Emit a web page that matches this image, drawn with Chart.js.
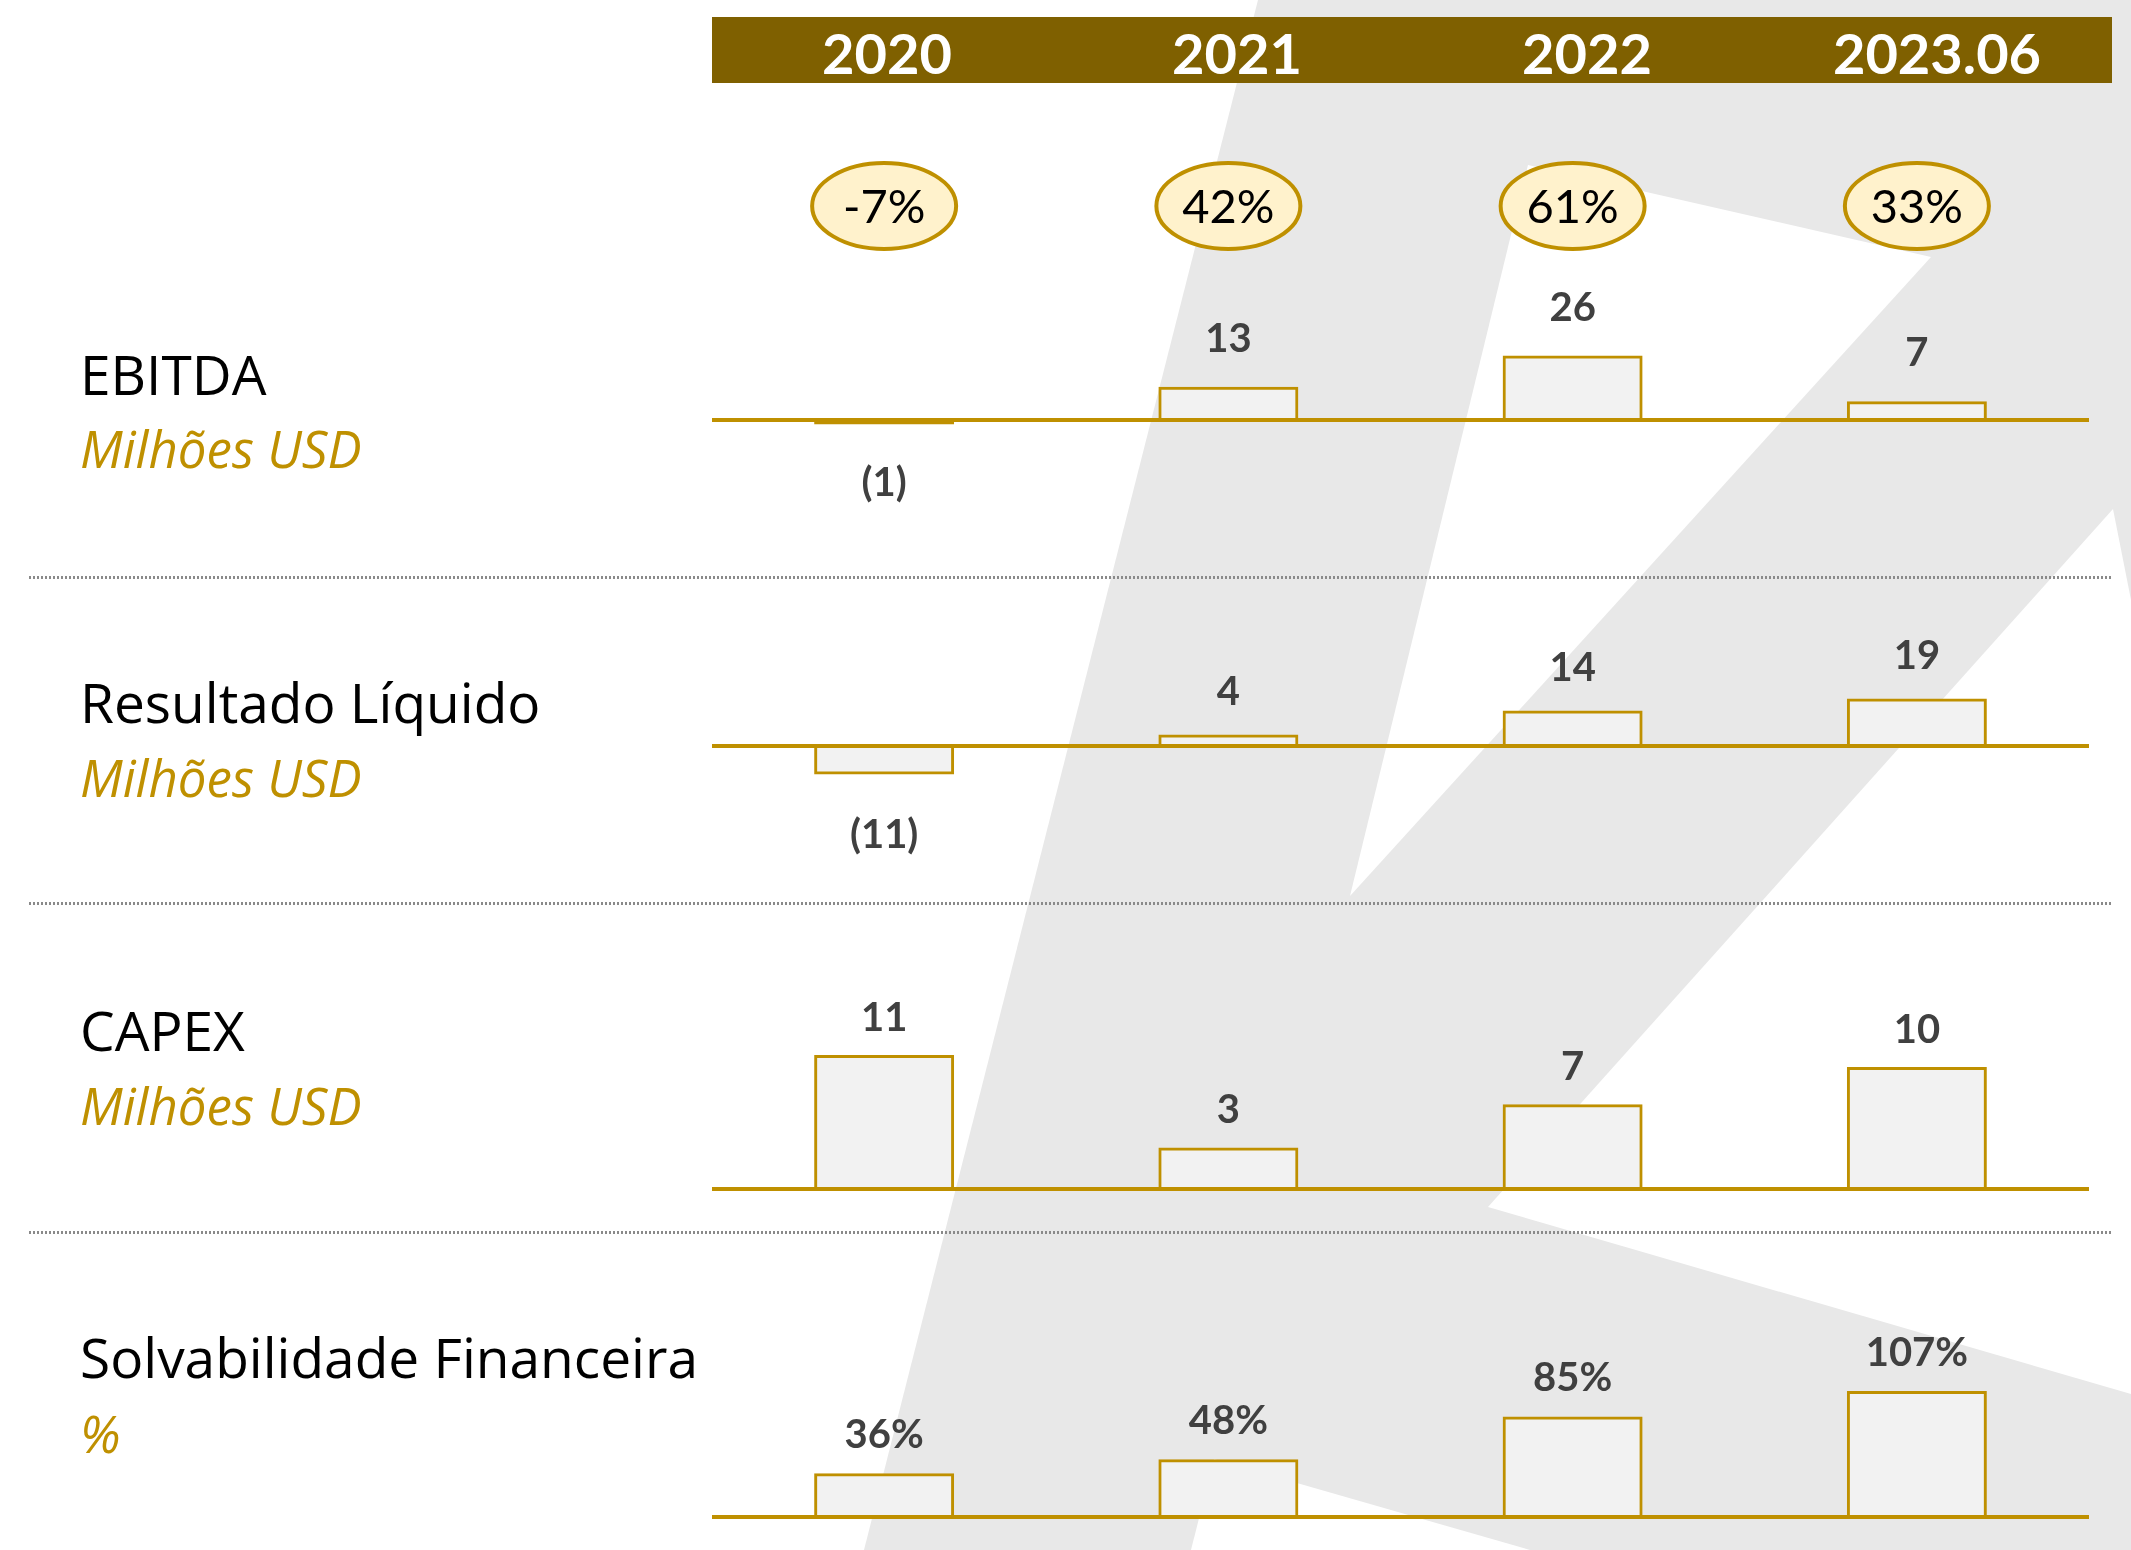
<!DOCTYPE html>
<html>
<head>
<meta charset="utf-8">
<script src="https://cdn.jsdelivr.net/npm/chart.js@4.4.0/dist/chart.umd.min.js"></script>
<style>
  html, body { margin: 0; padding: 0; background: #fff; }
  #page { position: relative; width: 2131px; height: 1550px; overflow: hidden; }
  #bg { position: absolute; left: 0; top: 0; }
  canvas { position: absolute; left: 0; }
</style>
</head>
<body>
<div id="page">
  <svg id="bg" width="2131" height="1550">
    <polygon points="1258,0 2131,0 2131,1550 864,1550" fill="#e8e8e8"/>
    <polygon points="1528,165 1931,257 1350,896" fill="#fff"/>
    <polygon points="2113,509 2131,600 2131,1394 1488,1207" fill="#fff"/>
    <polygon points="1214,1459 1530,1550 1191,1550" fill="#fff"/>
  </svg>
  <canvas id="c1" width="2131" height="576" style="top:0px"></canvas>
  <canvas id="c2" width="2131" height="326" style="top:576px"></canvas>
  <canvas id="c3" width="2131" height="329" style="top:902px"></canvas>
  <canvas id="c4" width="2131" height="319" style="top:1231px"></canvas>
</div>
<script>
// dados
const years = ['2020', '2021', '2022', '2023.06'];
const margins = [-7, 42, 61, 33];
const ebitda = [-1, 13, 26, 7];
const resultado = [-11, 4, 14, 19];
const capex = [11, 3.3, 6.9, 10];
const solvabilidade = [36, 48, 85, 107];

const GOLD = '#BF9000';
const DARK_GOLD = '#7F6000';
const FONT = 'Lato, "Open Sans", sans-serif';
const TITLE_FONT = '"Open Sans", "Noto Sans", sans-serif';

// base = pixel da linha zero dentro do canvas, ppu = pixels por unidade
const panels = [
  { id: 'c1', data: ebitda, title: 'EBITDA', unit: 'Milhões USD', base: 420, ppu: 2.4,
    up: 51, down: 60, titleY: 395, unitY: 468, header: true },
  { id: 'c2', data: resultado, title: 'Resultado Líquido', unit: 'Milhões USD', base: 170, ppu: 2.4,
    up: 45, down: 62, titleY: 147, unitY: 221, sep: true },
  { id: 'c3', data: capex, title: 'CAPEX', unit: 'Milhões USD', base: 287, ppu: 12,
    up: 40, down: 60, titleY: 149, unitY: 223, sep: true },
  { id: 'c4', data: solvabilidade, title: 'Solvabilidade Financeira', unit: '%', base: 286, ppu: 1.16,
    up: 41, down: 60, titleY: 147, unitY: 222, sep: true, pct: true }
];

function fmt(v, pct) {
  const n = Math.round(Math.abs(v));
  if (pct) return n + '%';
  return v < 0 ? '(' + n + ')' : String(n);
}

function panelPlugin(p) {
  return {
    id: 'panel_' + p.id,
    beforeDraw(chart) {
      const ctx = chart.ctx;
      ctx.save();
      if (p.sep) {
        ctx.strokeStyle = '#8a8a8a';
        ctx.lineWidth = 3;
        ctx.setLineDash([2, 2]);
        ctx.beginPath();
        ctx.moveTo(29, 1.5);
        ctx.lineTo(2113, 1.5);
        ctx.stroke();
        ctx.setLineDash([]);
      }
      if (p.header) {
        ctx.fillStyle = DARK_GOLD;
        ctx.fillRect(712, 17, 1400, 66);
        ctx.fillStyle = '#fff';
        ctx.font = 'bold 56px ' + FONT;
        ctx.textAlign = 'center';
        ctx.textBaseline = 'alphabetic';
        years.forEach((yr, i) => ctx.fillText(yr, 712 + 175 + 350 * i, 74));

        const x = chart.scales.x;
        margins.forEach((m, i) => {
          const cx = x.getPixelForValue(i);
          ctx.beginPath();
          ctx.ellipse(cx, 206, 72, 43, 0, 0, Math.PI * 2);
          ctx.fillStyle = '#FFF2CC';
          ctx.fill();
          ctx.lineWidth = 4;
          ctx.strokeStyle = GOLD;
          ctx.stroke();
          ctx.fillStyle = '#000';
          ctx.font = '47px ' + FONT;
          ctx.fillText(m + '%', cx, 223);
        });
      }
      ctx.textAlign = 'left';
      ctx.textBaseline = 'alphabetic';
      ctx.fillStyle = '#000';
      ctx.font = '55px ' + TITLE_FONT;
      ctx.fillText(p.title, 80, p.titleY);
      ctx.fillStyle = GOLD;
      ctx.font = 'italic 51px ' + TITLE_FONT;
      ctx.fillText(p.unit, 80, p.unitY);
      ctx.restore();
    },
    afterDatasetsDraw(chart) {
      const ctx = chart.ctx;
      const area = chart.chartArea;
      const y0 = chart.scales.y.getPixelForValue(0);
      ctx.save();
      ctx.strokeStyle = GOLD;
      ctx.lineWidth = 4;
      ctx.beginPath();
      ctx.moveTo(area.left, y0);
      ctx.lineTo(area.right, y0);
      ctx.stroke();

      ctx.font = 'bold 40px ' + FONT;
      ctx.fillStyle = '#404040';
      ctx.textAlign = 'center';
      ctx.textBaseline = 'alphabetic';
      chart.getDatasetMeta(0).data.forEach((bar, i) => {
        const v = p.data[i];
        const cy = v >= 0 ? bar.y - p.up : bar.y + p.down;
        ctx.fillText(fmt(v, p.pct), bar.x, cy + 14);
      });
      ctx.restore();
    }
  };
}

panels.forEach(p => {
  const canvas = document.getElementById(p.id);
  const h = canvas.height;
  new Chart(canvas.getContext('2d'), {
    type: 'bar',
    data: {
      labels: years,
      datasets: [{
        data: p.data,
        // barras muito baixas ficam so com a cor da borda
        backgroundColor: c => Math.abs(c.raw) * p.ppu < 6 ? GOLD : '#F2F2F2',
        borderColor: GOLD,
        borderWidth: 3,
        borderSkipped: 'start',
        inflateAmount: 2,
        barPercentage: 0.395,
        categoryPercentage: 1
      }]
    },
    options: {
      responsive: false,
      animation: false,
      devicePixelRatio: 1,
      layout: { padding: { left: 712, right: 42, top: 0, bottom: 0 } },
      plugins: { legend: { display: false }, tooltip: { enabled: false } },
      scales: {
        x: { display: false, offset: true },
        y: { display: false, min: -(h - p.base) / p.ppu, max: p.base / p.ppu }
      }
    },
    plugins: [panelPlugin(p)]
  });
});
</script>
</body>
</html>
